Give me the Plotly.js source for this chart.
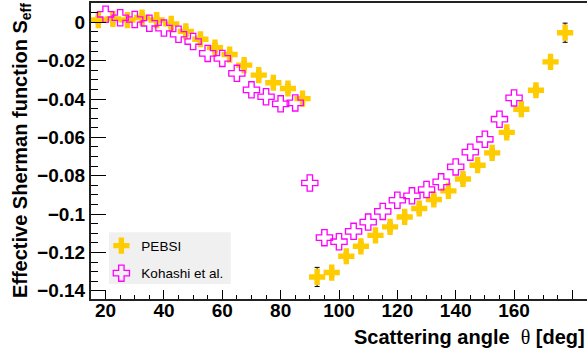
<!DOCTYPE html>
<html>
<head>
<meta charset="utf-8">
<script src="https://cdn.plot.ly/plotly-3.0.1.min.js"></script>
<style>html,body{margin:0;padding:0;background:#fff;}#chart{width:587px;height:351px;}</style>
</head>
<body>
<div id="chart"></div>
<script>
// PEBSI (filled gold crosses)
const pebsiAngle = [17.5, 22.5, 27.5, 32.5, 37.5, 42.5, 47.5, 52.5, 57.5, 62.5, 67.5, 72.5, 77.5, 82.5, 87.5,
                    92.5, 97.5, 102.5, 107.5, 112.5, 117.5, 122.5, 127.5, 132.5, 137.5, 142.5, 147.5, 152.5, 157.5, 162.5, 167.5, 172.5, 177.5];
const pebsiS = [0.0012, 0.0018, 0.0012, 0.0025, 0.0012, -0.0008, -0.0047, -0.0088, -0.0132, -0.0168, -0.0223, -0.0275, -0.0315, -0.0345, -0.0398,
                -0.1328, -0.1305, -0.1220, -0.1168, -0.1111, -0.1067, -0.1015, -0.0971, -0.0924, -0.0879, -0.0817, -0.0745, -0.0681, -0.0574, -0.0453, -0.0354, -0.0206, -0.0054];
const pebsiErr = [0.002, 0.002, 0.002, 0.002, 0.002, 0.002, 0.002, 0.002, 0.002, 0.002, 0.002, 0.002, 0.002, 0.002, 0.002,
                  0.005, 0.002, 0.002, 0.002, 0.002, 0.002, 0.002, 0.002, 0.002, 0.002, 0.002, 0.002, 0.002, 0.002, 0.002, 0.002, 0.002, 0.005];

// Kohashi et al. (open magenta crosses)
const kohashiAngle = [20, 25, 30, 35, 40, 45, 50, 55, 60, 65, 70, 75, 80, 85, 90,
                      95, 100, 105, 110, 115, 120, 125, 130, 135, 140, 145, 150, 155, 160];
const kohashiS = [0.0042, 0.0024, 0.0015, -0.0005, -0.0030, -0.0062, -0.0100, -0.0162, -0.0188, -0.0266, -0.0352, -0.0388, -0.0425, -0.0420, -0.0838,
                  -0.1123, -0.1144, -0.1090, -0.1042, -0.0986, -0.0928, -0.0905, -0.0872, -0.0832, -0.0754, -0.0677, -0.0610, -0.0505, -0.0394];

// Axis tick labels
const xTickVals = [20, 40, 60, 80, 100, 120, 140, 160, 180];
const xTickText = ['20', '40', '60', '80', '100', '120', '140', '160', '180'];
const yTickVals = [0, -0.02, -0.04, -0.06, -0.08, -0.1, -0.12, -0.14];
const yTickText = ['0', '\u22120.02', '\u22120.04', '\u22120.06', '\u22120.08', '\u22120.1', '\u22120.12', '\u22120.14'];

const seriesNames = ['PEBSI', 'Kohashi et al.'];

const FONT = 'Liberation Sans, Arial, Helvetica, sans-serif';

const traces = [
  {
    x: pebsiAngle, y: pebsiS, name: seriesNames[0], type: 'scatter', mode: 'markers',
    legendgroup: 'a',
    marker: {symbol: 'cross', size: 13.5, color: '#ffcc00', line: {width: 0}},
    error_y: {type: 'data', array: pebsiErr, visible: true, color: '#000', thickness: 1, width: 2.5}
  },
  {
    x: kohashiAngle, y: kohashiS, name: seriesNames[1], type: 'scatter', mode: 'markers',
    legendgroup: 'b',
    marker: {symbol: 'cross-open', size: 13.5, color: '#ff00ff', line: {width: 1.3, color: '#ff00ff'}}
  }
];

const tickFont = {family: FONT, size: 19, weight: 'bold', color: '#000'};

const layout = {
  width: 587, height: 351,
  margin: {l: 91, r: 0, t: 3, b: 52, pad: 0},
  paper_bgcolor: '#fff', plot_bgcolor: '#fff',
  showlegend: true,
  xaxis: {
    range: [15, 185], tickmode: 'array', tickvals: xTickVals, ticktext: xTickText,
    ticks: 'inside', ticklen: 9, tickwidth: 1, tickcolor: '#000',
    minor: {tickmode: 'linear', tick0: 0, dtick: 5, ticks: 'inside', ticklen: 4.5, tickwidth: 1, tickcolor: '#000'},
    showline: true, linewidth: 2, linecolor: '#222', mirror: true,
    showgrid: false, zeroline: false, tickfont: tickFont, ticklabelstandoff: -7
  },
  yaxis: {
    range: [-0.1443, 0.0101], tickmode: 'array', tickvals: yTickVals, ticktext: yTickText,
    ticks: 'inside', ticklen: 14.5, tickwidth: 1, tickcolor: '#000',
    minor: {tickmode: 'linear', tick0: 0, dtick: 0.005, ticks: 'inside', ticklen: 7.3, tickwidth: 1, tickcolor: '#000'},
    showline: true, linewidth: 2, linecolor: '#222', mirror: true,
    showgrid: false, zeroline: false, tickfont: tickFont
  },
  legend: {
    x: 0.033, xanchor: 'left', y: 0.232, yanchor: 'top',
    bgcolor: 'rgba(0,0,0,0)', borderwidth: 0, indentation: -6,
    traceorder: 'grouped', tracegroupgap: 7,
    font: {family: FONT, size: 13.5, color: '#000'}
  },
  shapes: [
    {type: 'rect', xref: 'paper', yref: 'paper', x0: 0.0363, x1: 0.2817, y0: 0.0507, y1: 0.2253,
     fillcolor: '#f0f0f0', line: {width: 0}, layer: 'below'}
  ],
  annotations: [
    {xref: 'paper', yref: 'paper', x: 1, y: -0.127, xanchor: 'right', yanchor: 'middle', showarrow: false,
     text: '<b>Scattering angle\u00a0\u00a0</b><span style="font-family:\'Liberation Serif\'">\u03b8</span><b> [deg]</b>',
     font: {family: FONT, size: 20, color: '#000'}},
    {xref: 'paper', yref: 'paper', x: -0.141, y: 0.5, xanchor: 'center', yanchor: 'middle', showarrow: false,
     textangle: -90,
     text: '<b>Effective Sherman function S<sub>eff</sub></b>',
     font: {family: FONT, size: 20, color: '#000'}}
  ]
};

Plotly.newPlot('chart', traces, layout, {displayModeBar: false, staticPlot: true});
</script>
</body>
</html>
